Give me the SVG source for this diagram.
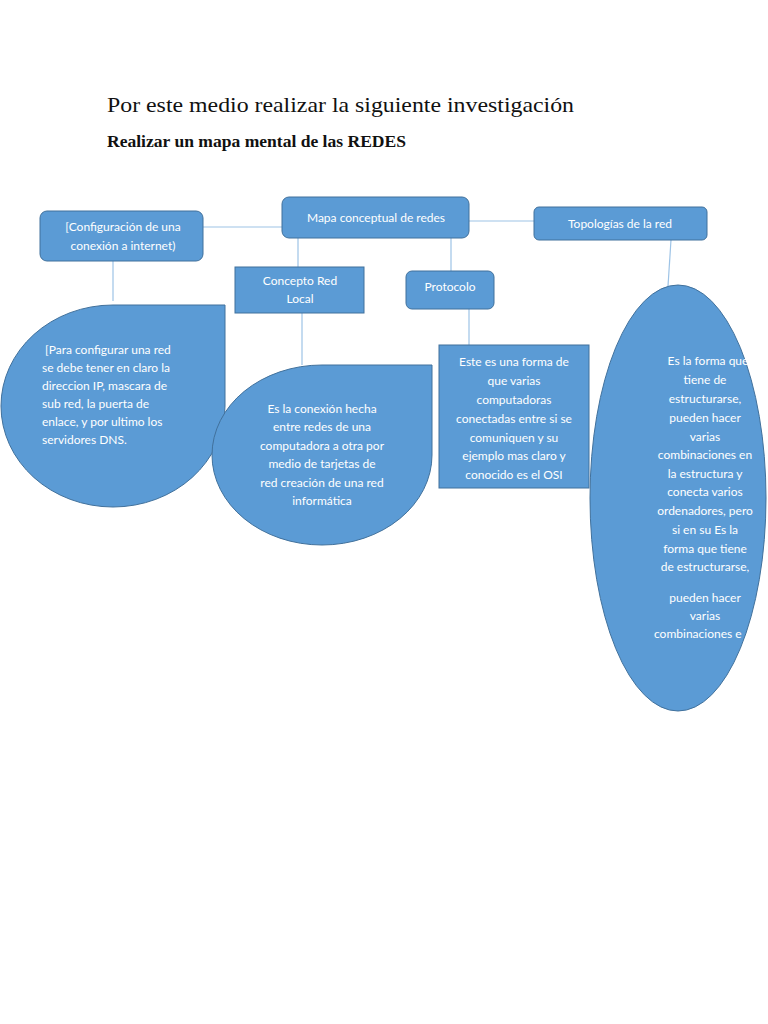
<svg xmlns="http://www.w3.org/2000/svg" width="768" height="1024" viewBox="0 0 768 1024">
<style>
.shape{fill:#5b9bd5;stroke:#41719c;stroke-width:1}
.t{font-family:Lato,"Open Sans","Liberation Sans",sans-serif;font-size:12px;fill:#ffffff}
.c{text-anchor:middle}
.conn{stroke:#9dc3e6;stroke-width:1.2;fill:none}
.title{font-family:"Liberation Serif","DejaVu Serif",serif;fill:#111111}
</style>
<rect width="768" height="1024" fill="#ffffff"/>
<text class="title" x="107" y="112" font-size="21" textLength="467" lengthAdjust="spacingAndGlyphs">Por este medio realizar la siguiente investigación</text>
<text class="title" x="107" y="147" font-size="16" font-weight="bold" textLength="299" lengthAdjust="spacingAndGlyphs">Realizar un mapa mental de las REDES</text>
<g id="connectors">
<line class="conn" x1="203" y1="227" x2="282" y2="227"/>
<line class="conn" x1="469" y1="221" x2="534" y2="221"/>
<line class="conn" x1="113" y1="261" x2="113" y2="301"/>
<line class="conn" x1="298" y1="238" x2="298" y2="267"/>
<line class="conn" x1="451" y1="238" x2="451" y2="271"/>
<line class="conn" x1="302" y1="313" x2="302" y2="365"/>
<line class="conn" x1="469" y1="309" x2="469" y2="345"/>
<line class="conn" x1="671" y1="240" x2="668" y2="286"/>
</g>
<g id="config">
<rect class="shape" x="40" y="211" width="163" height="50" rx="7"/>
<text class="t c" x="123" y="231">[Configuración de una</text>
<text class="t c" x="123" y="250">conexión a internet)</text>
</g>
<g id="mapa">
<rect class="shape" x="282" y="197" width="187" height="41" rx="7"/>
<text class="t c" x="376" y="222">Mapa conceptual de redes</text>
</g>
<g id="topologias">
<rect class="shape" x="534" y="207" width="173" height="33" rx="5"/>
<text class="t c" x="620" y="228">Topologías de la red</text>
</g>
<g id="concepto">
<rect class="shape" x="235" y="267" width="129" height="46"/>
<text class="t c" x="300" y="285">Concepto Red</text>
<text class="t c" x="300" y="303">Local</text>
</g>
<g id="protocolo">
<rect class="shape" x="406" y="271" width="88" height="38" rx="6"/>
<text class="t c" x="450" y="291">Protocolo</text>
</g>
<g id="config-desc">
<path class="shape" d="M113,305 L225,305 L225,406 A112,101 0 1 1 113,305 Z"/>
<text class="t" x="45" y="354">[Para configurar una red</text>
<text class="t" x="42" y="372">se debe tener en claro la</text>
<text class="t" x="42" y="390">direccion IP, mascara de</text>
<text class="t" x="42" y="408">sub red, la puerta de</text>
<text class="t" x="42" y="426">enlace, y por ultimo los</text>
<text class="t" x="42" y="444">servidores DNS.</text>
</g>
<g id="concepto-desc">
<path class="shape" d="M322,365 L432,365 L432,455 A110,90 0 1 1 322,365 Z"/>
<text class="t c" x="322" y="413">Es la conexión hecha</text>
<text class="t c" x="322" y="431">entre redes de una</text>
<text class="t c" x="322" y="450">computadora a otra por</text>
<text class="t c" x="322" y="468">medio de tarjetas de</text>
<text class="t c" x="322" y="487">red creación de una red</text>
<text class="t c" x="322" y="505">informática</text>
</g>
<g id="protocolo-desc">
<rect class="shape" x="439" y="345" width="150" height="143"/>
<text class="t c" x="514" y="366">Este es una forma de</text>
<text class="t c" x="514" y="385">que varias</text>
<text class="t c" x="514" y="404">computadoras</text>
<text class="t c" x="514" y="423">conectadas entre si se</text>
<text class="t c" x="514" y="442">comuniquen y su</text>
<text class="t c" x="514" y="460">ejemplo mas claro y</text>
<text class="t c" x="514" y="479">conocido es el OSI</text>
</g>
<g id="topologias-desc">
<ellipse class="shape" cx="678" cy="498" rx="88" ry="213"/>
<text class="t c" x="708" y="365">Es la forma que</text>
<text class="t c" x="705" y="384">tiene de</text>
<text class="t c" x="705" y="403">estructurarse,</text>
<text class="t c" x="705" y="422">pueden hacer</text>
<text class="t c" x="705" y="441">varias</text>
<text class="t c" x="705" y="459">combinaciones en</text>
<text class="t c" x="705" y="478">la estructura y</text>
<text class="t c" x="705" y="496">conecta varios</text>
<text class="t c" x="705" y="515">ordenadores, pero</text>
<text class="t c" x="705" y="534">si en su Es la</text>
<text class="t c" x="705" y="553">forma que tiene</text>
<text class="t c" x="705" y="571">de estructurarse,</text>
<text class="t c" x="705" y="602">pueden hacer</text>
<text class="t c" x="705" y="620">varias</text>
<text class="t" x="654" y="638">combinaciones e</text>
</g>
</svg>
